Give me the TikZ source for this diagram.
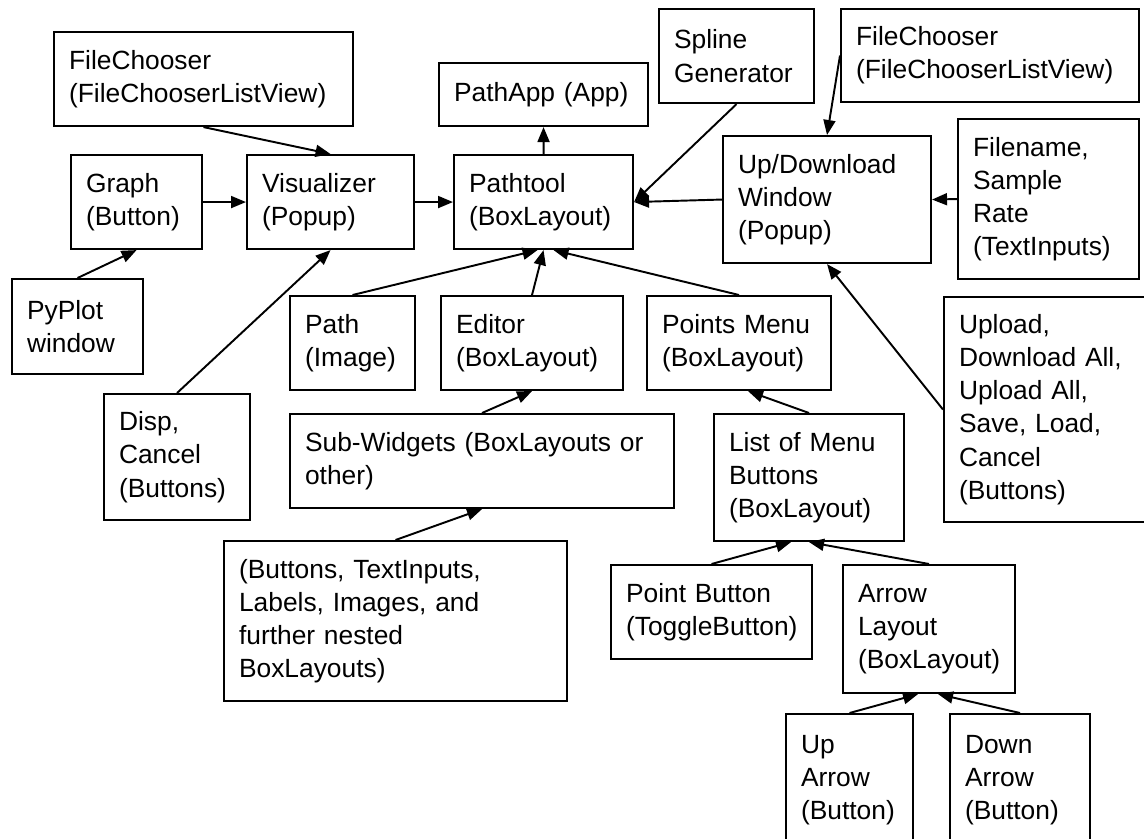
\documentclass[tikz,border=0pt]{standalone}
\usepackage{fontspec}
\setmainfont{Liberation Sans}
\usetikzlibrary{arrows.meta}
\begin{document}
\begin{tikzpicture}[x=0.02cm, y=-0.02cm,
                    arrow/.style = {line width=1.1pt,-{Triangle[length=0.3cm,width=0.24cm]}},
                    box/.style = {draw, line width=1.2pt, anchor=north west, align=left,
                                  inner xsep=0.3cm, inner ysep=0pt,
                                  font=\fontsize{15}{18.9}\selectfont}]
                    \useasboundingbox (0,0) rectangle (1144,839);
                    \clip (0,0) rectangle (1144,839);

                    \node[box, text width=5.38cm, minimum height=1.88cm] (fcl) at (53,31) {FileChooser\\(FileChooserListView)};
                    \node[box, text width=2.02cm, minimum height=1.88cm] (graph) at (70,154) {Graph\\(Button)};
                    \node[box, text width=2.74cm, minimum height=1.88cm] (vis) at (246,154) {Visualizer\\(Popup)};
                    \node[box, text width=2.02cm, minimum height=1.90cm] (pyplot) at (11,278) {PyPlot\\window};
                    \node[box, text width=2.32cm, minimum height=2.52cm] (disp) at (103,393) {Disp,\\Cancel\\(Buttons)};

                    \node[box, text width=3.58cm, minimum height=1.26cm] (pathapp) at (438,62) {PathApp (App)};
                    \node[box, text width=2.98cm, minimum height=1.88cm] (pathtool) at (453,154) {Pathtool\\(BoxLayout)};
                    \node[box, text width=2.50cm, minimum height=1.88cm] (spline) at (658,8) {Spline\\Generator};

                    \node[box, text width=5.36cm, minimum height=1.86cm] (fcr) at (840,8) {FileChooser\\(FileChooserListView)};
                    \node[box, text width=3.56cm, minimum height=2.54cm] (updown) at (722,135) {Up/Download\\Window\\(Popup)};
                    \node[box, text width=3.02cm, minimum height=3.20cm] (fname) at (957,118) {Filename,\\Sample\\Rate\\(TextInputs)};
                    \node[box, text width=3.60cm, minimum height=4.50cm] (upload) at (943,296) {Upload,\\Download All,\\Upload All,\\Save, Load,\\Cancel\\(Buttons)};

                    \node[box, text width=1.90cm, minimum height=1.88cm] (path) at (289,295) {Path\\(Image)};
                    \node[box, text width=3.04cm, minimum height=1.88cm] (editor) at (440,295) {Editor\\(BoxLayout)};
                    \node[box, text width=3.08cm, minimum height=1.88cm] (points) at (646,295) {Points Menu\\(BoxLayout)};
                    \node[box, text width=7.08cm, minimum height=1.88cm] (sub) at (289,413) {Sub-Widgets (BoxLayouts or\\other)};
                    \node[box, text width=6.26cm, minimum height=3.20cm] (widgets) at (223,540) {(Buttons, TextInputs,\\Labels, Images, and\\further nested\\BoxLayouts)};

                    \node[box, text width=3.20cm, minimum height=2.54cm] (list) at (713,413) {List of Menu\\Buttons\\(BoxLayout)};
                    \node[box, text width=3.42cm, minimum height=1.88cm] (pointbtn) at (610,564) {Point Button\\(ToggleButton)};
                    \node[box, text width=2.84cm, minimum height=2.56cm] (arrowlay) at (842,564) {Arrow\\Layout\\(BoxLayout)};
                    \node[box, text width=1.94cm, minimum height=2.64cm] (up) at (785,713) {Up\\Arrow\\(Button)};
                    \node[box, text width=2.20cm, minimum height=2.64cm] (down) at (949,713) {Down\\Arrow\\(Button)};

                    \draw[arrow] (fcl.south) -- (vis.north);
                    \draw[arrow] (graph.east) -- (vis.west);
                    \draw[arrow] (pyplot.north) -- (graph.south);
                    \draw[arrow] (disp.north) -- (vis.south);
                    \draw[arrow] (vis.east) -- (pathtool.west);
                    \draw[arrow] (pathtool.north) -- (pathapp.south);
                    \draw[arrow] (spline.south) -- (pathtool.east);
                    \draw[arrow] (updown.west) -- (pathtool.east);
                    \draw[arrow] (fcr.west) -- (updown.north);
                    \draw[arrow] (fname.west) -- (updown.east);
                    \draw[arrow] (upload.west) -- (updown.south);

                    \draw[arrow] (path.north) -- ([xshift=-0.12cm]pathtool.south);
                    \draw[arrow] (editor.north) -- (pathtool.south);
                    \draw[arrow] (points.north) -- ([xshift=0.2cm]pathtool.south);
                    \draw[arrow] (sub.north) -- (editor.south);
                    \draw[arrow] (widgets.north) -- (sub.south);
                    \draw[arrow] (list.north) -- ([xshift=0.18cm]points.south);

                    \draw[arrow] (pointbtn.north) -- ([xshift=-0.36cm]list.south);
                    \draw[arrow] (arrowlay.north) -- (list.south);
                    \draw[arrow] (up.north) -- ([xshift=-0.22cm]arrowlay.south);
                    \draw[arrow] (down.north) -- ([xshift=0.18cm]arrowlay.south);

                \end{tikzpicture}
\end{document}
